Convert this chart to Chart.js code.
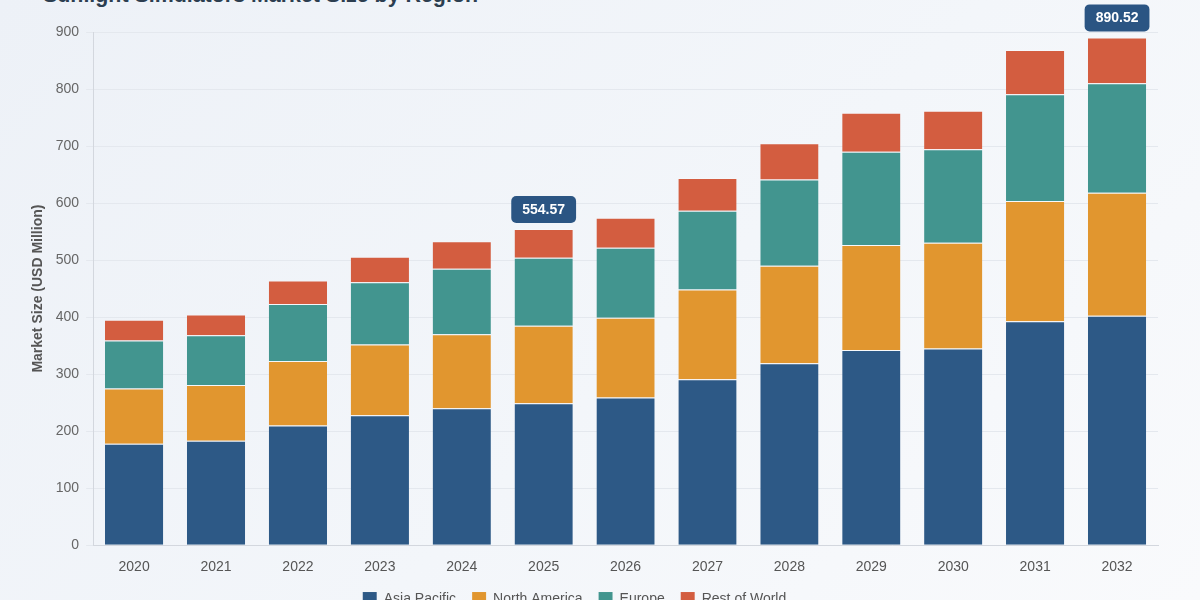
<!DOCTYPE html>
<html>
<head>
<meta charset="utf-8">
<script src="https://cdn.jsdelivr.net/npm/chart.js@4.4.1/dist/chart.umd.min.js"></script>
<style>
  html, body { margin: 0; padding: 0; width: 1200px; height: 600px; overflow: hidden; }
  body { background: linear-gradient(135deg, #edf1f7 0%, #f3f6fa 55%, #f9fafc 100%); font-family: "Liberation Sans", Arial, sans-serif; position: relative; }
  #title { position: absolute; left: 43px; top: -17px; margin: 0; font: bold 21.4px/24px "Liberation Sans", Arial, sans-serif; color: #2c3e50; white-space: nowrap; }
  #wrap { position: absolute; left: 0; top: 0; width: 1200px; height: 640px; }
</style>
</head>
<body>
<h2 id="title">Sunlight Simulators Market Size by Region</h2>
<div id="wrap"><canvas id="c"></canvas></div>
<script>
const years = ['2020','2021','2022','2023','2024','2025','2026','2027','2028','2029','2030','2031','2032'];
const asiaPacific  = [178, 183, 210, 228, 240, 249, 259, 291, 319, 342.5, 345, 392.6, 402.6];
const northAmerica = [97, 98, 113, 124, 130, 136, 140, 157.5, 171, 184, 185.4, 211, 215.4];
const europe       = [84, 87, 100, 109, 115, 119, 122.8, 138, 151.3, 163.4, 164, 187.2, 192];
const restOfWorld  = [36.5, 36.6, 41, 45, 48, 50.57, 52.4, 57.5, 63.4, 68.3, 67.6, 77.7, 80.52];
const highlightYears = ['2025', '2032'];
const yTicks = [0, 100, 200, 300, 400, 500, 600, 700, 800, 900];

const colors = {
  asia: '#2d5986',
  na: '#e1962f',
  eu: '#42958f',
  row: '#d35d40'
};

const totalLabelPlugin = {
  id: 'totalLabels',
  afterDatasetsDraw(chart) {
    const ctx = chart.ctx;
    const yScale = chart.scales.y;
    const xScale = chart.scales.x;
    highlightYears.forEach(yr => {
      const i = years.indexOf(yr);
      if (i < 0) return;
      const total = asiaPacific[i] + northAmerica[i] + europe[i] + restOfWorld[i];
      const text = total.toFixed(2);
      const x = xScale.getPixelForValue(i);
      const yTop = yScale.getPixelForValue(total);
      ctx.save();
      ctx.font = 'bold 14px "Liberation Sans", Arial, sans-serif';
      const w = ctx.measureText(text).width + 22;
      const h = 27;
      const bx = x - w / 2;
      const by = yTop - 6 - h;
      ctx.fillStyle = '#2b5583';
      ctx.beginPath();
      ctx.roundRect(bx, by, w, h, 5);
      ctx.fill();
      ctx.fillStyle = '#ffffff';
      ctx.textAlign = 'center';
      ctx.textBaseline = 'middle';
      ctx.fillText(text, x, by + h / 2 + 0.5);
      ctx.restore();
    });
  }
};

const legendShiftPlugin = {
  id: 'legendShift',
  afterLayout(chart) {
    const lg = chart.legend;
    if (lg) { lg.left -= 17; lg.right -= 17; }
  }
};

const mk = (label, data, color) => ({
  label, data,
  backgroundColor: color,
  borderColor: 'rgba(255,255,255,0.25)',
  borderWidth: { top: 1, bottom: 0, left: 0, right: 0 },
  borderSkipped: false,
  barPercentage: 0.9,
  categoryPercentage: 0.79
});

new Chart(document.getElementById('c'), {
  type: 'bar',
  data: {
    labels: years,
    datasets: [
      mk('Asia Pacific', asiaPacific, colors.asia),
      mk('North America', northAmerica, colors.na),
      mk('Europe', europe, colors.eu),
      mk('Rest of World', restOfWorld, colors.row)
    ]
  },
  plugins: [totalLabelPlugin, legendShiftPlugin],
  options: {
    responsive: true,
    maintainAspectRatio: false,
    animation: false,
    layout: { padding: { left: 25, right: 42, top: 32, bottom: 24 } },
    plugins: {
      title: { display: false },
      tooltip: { enabled: false },
      legend: {
        position: 'bottom',
        labels: {
          boxWidth: 14, boxHeight: 14, padding: 16,
          color: '#555', font: { size: 14, family: '"Liberation Sans", Arial, sans-serif' }
        }
      }
    },
    scales: {
      x: {
        stacked: true,
        grid: { display: false, drawTicks: true, tickLength: 14 },
        border: { display: true, color: '#d3d7de' },
        ticks: { color: '#555', padding: 0, font: { size: 14, family: '"Liberation Sans", Arial, sans-serif' } }
      },
      y: {
        stacked: true,
        min: 0, max: 900,
        afterBuildTicks(scale) { scale.ticks = yTicks.map(v => ({ value: v })); },
        grid: { color: '#e4e8ee', tickLength: 7, drawTicks: true },
        border: { display: true, color: '#d3d7de' },
        ticks: { color: '#666', padding: 7, font: { size: 14, family: '"Liberation Sans", Arial, sans-serif' } },
        title: {
          display: true, text: 'Market Size (USD Million)', color: '#555',
          font: { size: 14, weight: 'bold', family: '"Liberation Sans", Arial, sans-serif' },
          padding: { top: 5, bottom: 2 }
        }
      }
    }
  }
});
</script>
</body>
</html>
